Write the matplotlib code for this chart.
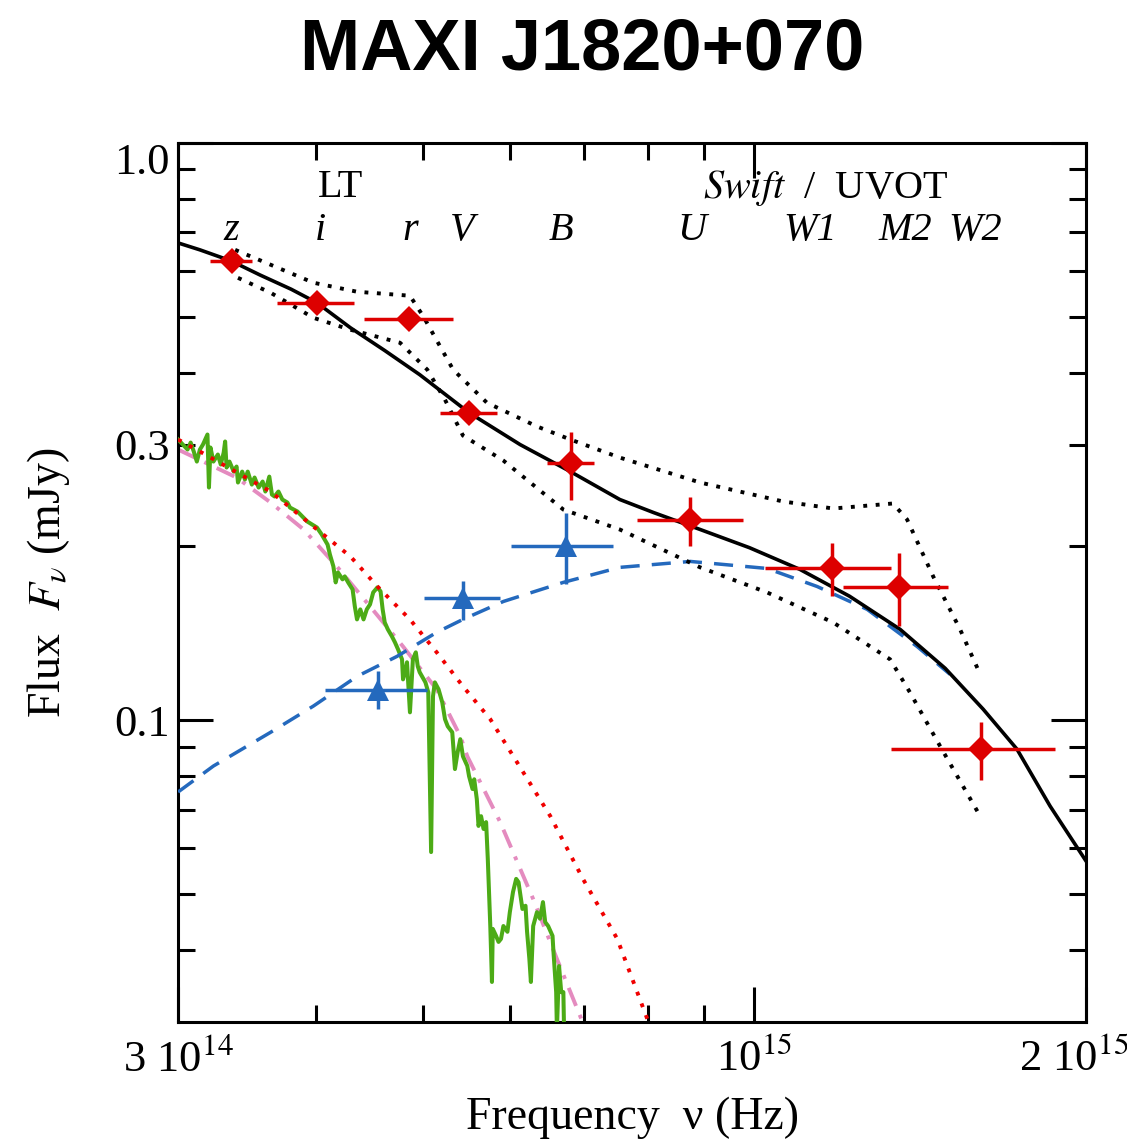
import numpy as np
import matplotlib
matplotlib.use("Agg")
from matplotlib import pyplot as plt
from matplotlib.ticker import NullFormatter
from matplotlib.transforms import blended_transform_factory, ScaledTranslation

plt.rcParams['font.family'] = ['Liberation Serif', 'DejaVu Serif']
plt.rcParams['mathtext.fontset'] = 'stix'

E14 = 1e14

# LT + Swift/UVOT photometry (red diamonds), nu in 1e14 Hz, flux in mJy
red_nu = np.array([3.36, 4.01, 4.86, 5.51, 6.82, 8.75, 11.77, 13.53, 16.06])
red_flux = np.array([0.625, 0.529, 0.496, 0.341, 0.2795, 0.2227, 0.1832, 0.1699, 0.0891])
red_nu_lo = np.array([3.21, 3.69, 4.42, 5.19, 6.49, 7.82, 10.23, 12.03, 13.31])
red_nu_hi = np.array([3.50, 4.33, 5.33, 5.84, 7.16, 9.76, 13.31, 15.00, 18.76])
red_flux_lo = np.array([0.625, 0.529, 0.496, 0.341, 0.2411, 0.2006, 0.1642, 0.1455, 0.0789])
red_flux_hi = np.array([0.625, 0.529, 0.496, 0.341, 0.3162, 0.2441, 0.2024, 0.1945, 0.0992])

# blue triangles
blue_nu = np.array([4.56, 5.44, 6.75])
blue_flux = np.array([0.113, 0.1626, 0.200])
blue_nu_lo = np.array([4.08, 5.01, 6.02])
blue_nu_hi = np.array([5.05, 5.88, 7.45])
blue_flux_lo = np.array([0.1045, 0.149, 0.172])
blue_flux_hi = np.array([0.1216, 0.1745, 0.229])

# total model (black solid)
model_nu = [3.00, 3.14, 3.35, 3.56, 3.80, 4.01, 4.30, 4.62, 4.97, 5.51, 6.13, 6.81,
            7.55, 8.10, 8.93, 9.90, 11.00, 12.20, 13.56, 14.90, 16.13, 17.31, 18.55,
            20.00]
model_flux = [0.6713, 0.6530, 0.6250, 0.5907, 0.5580, 0.5287, 0.4786, 0.4370, 0.3969,
              0.3410, 0.3003, 0.2696, 0.2412, 0.2290, 0.2140, 0.1990, 0.1825, 0.1640,
              0.1437, 0.1230, 0.1045, 0.0891, 0.0710, 0.0570]

# model envelope (black dotted)
upper_nu = [3.38, 3.98, 4.36, 4.87, 5.01, 5.33, 5.72, 6.35, 6.81, 7.55, 8.93, 10.62,
            11.79, 13.36, 13.76, 14.53, 15.37, 16.03]
upper_flux = [0.6530, 0.5728, 0.5525, 0.5438, 0.5000, 0.4048, 0.3548, 0.3228, 0.3064,
              0.2851, 0.2581, 0.2393, 0.2327, 0.2374, 0.2227, 0.1775, 0.1437, 0.1201]
lower_nu = [3.40, 3.64, 3.98, 4.30, 4.77, 5.05, 5.24, 5.44, 5.92, 6.71, 7.55, 8.93,
            10.27, 11.79, 13.28, 13.84, 14.74, 16.03]
lower_flux = [0.5840, 0.5503, 0.4980, 0.4748, 0.4508, 0.4048, 0.3591, 0.3113, 0.2817,
              0.2317, 0.2140, 0.1840, 0.1665, 0.1477, 0.1275, 0.1118, 0.0902, 0.0682]

# irradiated disc (blue dashed)
disc_nu = [3.00, 3.23, 3.64, 3.98, 4.36, 4.74, 5.15, 5.44, 5.92, 6.71, 7.55, 8.75,
           10.27, 11.40, 12.66, 14.05, 15.05]
disc_flux = [0.0751, 0.0833, 0.0953, 0.1058, 0.1191, 0.1290, 0.1420, 0.1495, 0.1606,
             0.1733, 0.1840, 0.1884, 0.1832, 0.1705, 0.1556, 0.1342, 0.1201]

# stellar blackbody (red dotted)
star_nu = [3.00, 3.14, 3.64, 3.98, 4.30, 4.55, 4.87, 5.15, 5.44, 5.76, 6.09, 6.53,
           6.99, 7.51, 8.01]
star_flux = [0.3064, 0.2921, 0.2490, 0.2166, 0.1922, 0.1705, 0.1495, 0.1311, 0.1145,
             0.1004, 0.0846, 0.0682, 0.0531, 0.0418, 0.0301]

# template star (pink dash-dot)
templ_nu = [3.00, 3.39, 3.64, 3.90, 4.18, 4.48, 4.80, 5.15, 5.41, 5.49, 5.88, 6.30,
            6.62, 6.98]
templ_flux = [0.2944, 0.2633, 0.2383, 0.2140, 0.1847, 0.1575, 0.1342, 0.1131, 0.0938,
              0.0866, 0.0666, 0.0490, 0.0386, 0.0301]

# observed spectrum (green)
spec_nu = [3.00, 3.03, 3.06, 3.08, 3.10, 3.12, 3.14, 3.16, 3.19, 3.20, 3.21, 3.23,
           3.26, 3.28, 3.30, 3.31, 3.32, 3.34, 3.37, 3.39, 3.40, 3.43, 3.45, 3.47,
           3.50, 3.52, 3.55, 3.58, 3.60, 3.63, 3.65, 3.67, 3.70, 3.73, 3.77, 3.79,
           3.82, 3.85, 3.89, 3.93, 3.97, 4.01, 4.05, 4.10, 4.12, 4.15, 4.17, 4.19,
           4.23, 4.25, 4.28, 4.32, 4.34, 4.36, 4.39, 4.42, 4.45, 4.48, 4.51, 4.55,
           4.58, 4.60, 4.62, 4.65, 4.69, 4.72, 4.75, 4.79, 4.80, 4.82, 4.84, 4.87,
           4.90, 4.93, 4.95, 4.97, 5.03, 5.06, 5.09, 5.11, 5.13, 5.17, 5.21, 5.24,
           5.27, 5.32, 5.35, 5.38, 5.41, 5.44, 5.49, 5.51, 5.55, 5.57, 5.60, 5.62,
           5.65, 5.68, 5.71, 5.73, 5.76, 5.78, 5.79, 5.83, 5.86, 5.89, 5.92, 5.97,
           6.00, 6.04, 6.08, 6.11, 6.16, 6.20, 6.22, 6.25, 6.27, 6.30, 6.35, 6.39,
           6.43, 6.46, 6.50, 6.56, 6.57, 6.61, 6.62, 6.65, 6.68, 6.71, 6.72]
spec_flux = [0.3064, 0.3003, 0.2944, 0.3027, 0.2921, 0.2806, 0.2944, 0.3003, 0.3126,
             0.2530, 0.2968, 0.2806, 0.2886, 0.2773, 0.2909, 0.3040, 0.2740, 0.2806,
             0.2696, 0.2751, 0.2581, 0.2696, 0.2612, 0.2696, 0.2560, 0.2633, 0.2530,
             0.2591, 0.2490, 0.2643, 0.2460, 0.2441, 0.2490, 0.2412, 0.2383, 0.2336,
             0.2317, 0.2299, 0.2254, 0.2209, 0.2183, 0.2157, 0.2098, 0.2015, 0.1937,
             0.1847, 0.1733, 0.1803, 0.1754, 0.1775, 0.1733, 0.1685, 0.1575, 0.1495,
             0.1556, 0.1495, 0.1556, 0.1587, 0.1665, 0.1699, 0.1672, 0.1556, 0.1477,
             0.1437, 0.1397, 0.1364, 0.1327, 0.1275, 0.1177, 0.1211, 0.1260, 0.1032,
             0.1275, 0.1311, 0.1240, 0.1211, 0.1163, 0.1118, 0.0591, 0.1100, 0.1163,
             0.1131, 0.1074, 0.1004, 0.0976, 0.0953, 0.0823, 0.0880, 0.0927, 0.0866,
             0.0833, 0.0800, 0.0760, 0.0790, 0.0730, 0.0656, 0.0682, 0.0648, 0.0666,
             0.0575, 0.0440, 0.0352, 0.0435, 0.0423, 0.0413, 0.0418, 0.0440, 0.0430,
             0.0465, 0.0504, 0.0531, 0.0524, 0.0471, 0.0477, 0.0430, 0.0386, 0.0352,
             0.0440, 0.0465, 0.0453, 0.0484, 0.0447, 0.0440, 0.0423, 0.0402, 0.0338,
             0.0290, 0.0375, 0.0338, 0.0338, 0.0290]

# filter labels
band_names = ['z', 'i', 'r', 'V', 'B', 'U', 'W1', 'M2', 'W2']
band_nu = [3.35, 4.04, 4.87, 5.43, 6.67, 8.78, 11.24, 13.70, 15.86]

xtick_vals = [3e14, 1e15, 2e15]
xtick_labels = ['3 10$^{14}$', '10$^{15}$', '2 10$^{15}$']
xminor_vals = [4e14, 5e14, 6e14, 7e14, 8e14, 9e14]
ytick_vals = [0.1, 0.3, 1.0]
ytick_labels = ['0.1', '0.3', '1.0']
yminor_vals = [0.04, 0.05, 0.06, 0.07, 0.08, 0.09, 0.2, 0.4, 0.5, 0.6, 0.7, 0.8, 0.9]

RED = '#dd0000'
BLUE = '#2469bd'
GREEN = '#4cab16'
PINK = '#e48bbf'

fig = plt.figure(figsize=(11.27, 11.45), dpi=100)
ax = fig.add_axes([0.158, 0.1074, 0.8057, 0.7677])

ax.plot(np.array(templ_nu) * E14, templ_flux, color=PINK, lw=2.8,
        dashes=(5, 2.5, 1, 2.5), zorder=2)
ax.plot(np.array(spec_nu) * E14, spec_flux, color=GREEN, lw=2.9, zorder=3)
ax.plot(np.array(star_nu) * E14, star_flux, color='#f00000', lw=2.8,
        dashes=(1, 2.2), zorder=4)
ax.plot(np.array(disc_nu) * E14, disc_flux, color=BLUE, lw=2.5,
        dashes=(5.5, 3.5), zorder=4)
ax.plot(np.array(upper_nu) * E14, upper_flux, color='black', lw=2.8,
        dashes=(1, 2.2), zorder=4)
ax.plot(np.array(lower_nu) * E14, lower_flux, color='black', lw=2.8,
        dashes=(1, 2.2), zorder=4)
ax.plot(np.array(model_nu) * E14, model_flux, color='black', lw=2.6, zorder=5)

ax.errorbar(red_nu * E14, red_flux,
            xerr=[(red_nu - red_nu_lo) * E14, (red_nu_hi - red_nu) * E14],
            yerr=[red_flux - red_flux_lo, red_flux_hi - red_flux],
            fmt='D', color=RED, ms=13, mew=0, elinewidth=2.5, capsize=0, zorder=6)
ax.errorbar(blue_nu * E14, blue_flux,
            xerr=[(blue_nu - blue_nu_lo) * E14, (blue_nu_hi - blue_nu) * E14],
            yerr=[blue_flux - blue_flux_lo, blue_flux_hi - blue_flux],
            fmt='^', color=BLUE, ms=16, mew=0, elinewidth=2.5, capsize=0, zorder=6)

ax.set_xscale('log')
ax.set_yscale('log')
ax.set_xlim(3e14, 2e15)
ax.set_ylim(0.03, 1.0)

ax.set_xticks(xtick_vals)
ax.set_xticklabels(xtick_labels)
ax.set_xticks(xminor_vals, minor=True)
ax.xaxis.set_minor_formatter(NullFormatter())
ax.set_yticks(ytick_vals)
ax.set_yticklabels(ytick_labels)
ax.set_yticks(yminor_vals, minor=True)
ax.yaxis.set_minor_formatter(NullFormatter())

ax.tick_params(which='both', direction='in', top=True, right=True, width=2.2,
               labelsize=32)
ax.tick_params(which='major', length=25)
ax.tick_params(which='minor', length=12)
ax.tick_params(axis='x', pad=12)
ax.tick_params(axis='y', pad=6)
for sp in ax.spines.values():
    sp.set_linewidth(2.2)

# 0.3 only carries a label, its tick stays short
ytk = ax.yaxis.get_major_ticks()
ytk[1].tick1line.set_markersize(12)
ytk[1].tick2line.set_markersize(12)
ax.get_yticklabels()[2].set_va('top')
# the last x label runs off the right edge, as in the original; nudge it left a bit
lab = ax.xaxis.get_major_ticks()[2].label1
lab.set_transform(lab.get_transform() + ScaledTranslation(-0.12, 0, fig.dpi_scale_trans))

ax.set_xlabel('Frequency  ν (Hz)', fontsize=33)
ax.set_ylabel(r'Flux  $F_{\nu}$ (mJy)', fontsize=33)
ax.xaxis.set_label_coords(0.5, -0.085)
ax.yaxis.set_label_coords(-0.117, 0.5)

trans = blended_transform_factory(ax.transData, ax.transAxes)
for name, f in zip(band_names, band_nu):
    ax.text(f * E14, 0.901, name, transform=trans, ha='center', va='center',
            fontsize=29, style='italic')
ax.text(4.21 * E14, 0.949, 'LT', transform=trans, ha='center', va='center',
        fontsize=29)
ax.text(11.6 * E14, 0.949, r'$\mathit{Swift}$  /  UVOT', transform=trans,
        ha='center', va='center', fontsize=29)

fig.text(0.517, 0.956, 'MAXI J1820+070', fontsize=52, fontweight='bold',
         family='Liberation Sans', ha='center', va='center')

fig.savefig('out.png', dpi=100)
